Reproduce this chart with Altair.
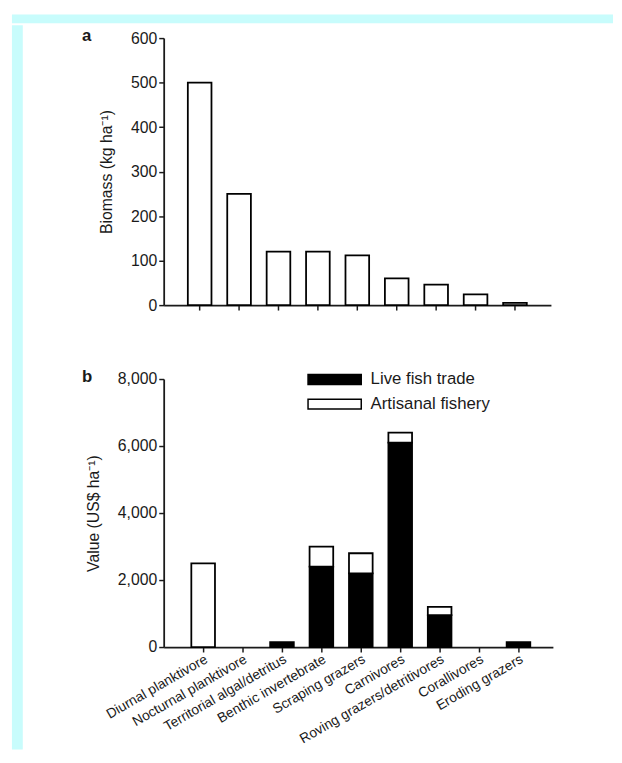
import altair as alt
import pandas as pd

# ---------------- data ----------------
groups = ["Diurnal planktivore", "Nocturnal planktivore", "Territorial algal/detritus",
          "Benthic invertebrate", "Scraping grazers", "Carnivores",
          "Roving grazers/detritivores", "Corallivores", "Eroding grazers"]
biomass = [500, 250, 120, 120, 112, 60, 46, 24, 5]
live_fish = [0, 0, 150, 2400, 2200, 6100, 950, 0, 150]
artisanal = [2500, 0, 0, 600, 600, 300, 250, 0, 0]
series = ["Live fish trade", "Artisanal fishery"]
biomass_ticks = [0, 100, 200, 300, 400, 500, 600]
value_ticks = [0, 2000, 4000, 6000, 8000]

FONT = "Liberation Sans"
INK = "#1a1a1a"
CYAN = "#c8fcfc"

bio_df = pd.DataFrame({"group": groups, "biomass": biomass})
rows = []
for i, g in enumerate(groups):
    rows.append({"group": g, "type": series[0], "value": live_fish[i], "ord": 0})
    rows.append({"group": g, "type": series[1], "value": artisanal[i], "ord": 1})
val_df = pd.DataFrame(rows)

dummy = pd.DataFrame({"v": [0]})


def band(w, h, top=0):
    # page frame band (decoration, not data)
    return (alt.Chart(dummy).mark_rect(fill=CYAN)
            .encode(x=alt.value(0), x2=alt.value(w), y=alt.value(top), y2=alt.value(h))
            .properties(width=w, height=h))


panel_a = alt.Chart(bio_df).mark_bar(fill="white", stroke="black", strokeWidth=1.8).encode(
    x=alt.X("group:N", sort=groups,
            scale=alt.Scale(domain=groups, paddingInner=0.4, paddingOuter=0.6125),
            axis=alt.Axis(labels=False, title=None, ticks=True, domain=True)),
    y=alt.Y("biomass:Q", scale=alt.Scale(domain=[0, 600], nice=False),
            axis=alt.Axis(values=biomass_ticks, title="Biomass (kg ha\u207b\u00b9)")),
).properties(
    width=393, height=271,
    title=alt.TitleParams(text="a", anchor="start", frame="group", dx=-83, dy=19,
                          fontSize=17, fontWeight="bold", font=FONT, color=INK),
)

legend_path = "M-3.857,-0.714L3.857,-0.714L3.857,0.714L-3.857,0.714Z"

panel_b = alt.Chart(val_df).transform_filter("datum.value > 0").mark_bar(
    stroke="black", strokeWidth=1.8
).encode(
    x=alt.X("group:N", sort=groups,
            scale=alt.Scale(domain=groups, paddingInner=0.4, paddingOuter=0.6375, align=0.55),
            axis=alt.Axis(title=None, labelAngle=-30, labelAlign="right", labelBaseline="top",
                          labelOverlap=False, labelLimit=300, labelFontSize=14, labelPadding=0)),
    y=alt.Y("value:Q", stack="zero", scale=alt.Scale(domain=[0, 8000], nice=False),
            axis=alt.Axis(values=value_ticks, format=",.0f", title="Value (US$ ha\u207b\u00b9)")),
    fill=alt.Fill("type:N", scale=alt.Scale(domain=series, range=["black", "white"]),
                  legend=alt.Legend(orient="none", legendX=319, legendY=362, title=None,
                                    symbolType=legend_path, symbolSize=196,
                                    symbolStrokeColor="black", symbolStrokeWidth=1.5,
                                    labelFontSize=17, labelFont=FONT, labelColor=INK,
                                    labelOffset=28, rowPadding=7, padding=0, labelLimit=300)),
    order=alt.Order("ord:Q", sort="ascending"),
).properties(
    width=395, height=272,
    title=alt.TitleParams(text="b", anchor="start", frame="group", dx=-83, dy=19,
                          fontSize=17, fontWeight="bold", font=FONT, color=INK),
)

main = alt.vconcat(panel_a, panel_b, spacing=54)
body = alt.hconcat(band(11, 722, top=-13), main, spacing=58)
chart = alt.vconcat(band(610, 9), body, spacing=0).properties(
    padding={"left": 3, "top": 0, "right": 0, "bottom": -2}
).configure_view(stroke="transparent").configure_axis(
    grid=False, domainColor=INK, domainWidth=1.8, tickColor=INK, tickWidth=1.5, tickSize=5,
    labelFont=FONT, labelFontSize=16, labelColor=INK, labelPadding=2,
    titleFont=FONT, titleFontSize=16, titleColor=INK, titleFontWeight="normal", titlePadding=16,
).configure_title(font=FONT, color=INK)

chart.save("out.html", embed_options={"renderer": "svg", "actions": False})
